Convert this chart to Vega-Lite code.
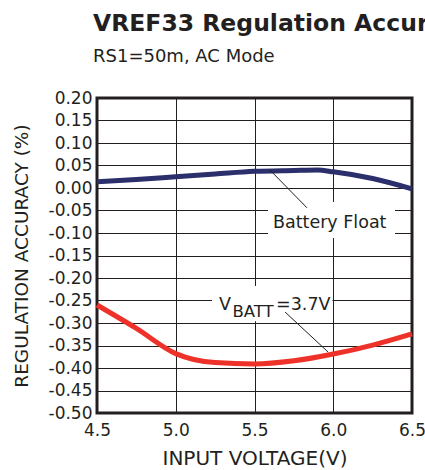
{
  "$schema": "https://vega.github.io/schema/vega-lite/v6.json",
  "width": 315,
  "height": 315,
  "autosize": {"type": "none"},
  "padding": {"left": 97, "top": 98, "right": 13, "bottom": 57},
  "title": {
    "text": "VREF33 Regulation Accuracy",
    "subtitle": "RS1=50m, AC Mode",
    "anchor": "start",
    "frame": "group",
    "dx": -4,
    "offset": 23,
    "font": "DejaVu Sans",
    "fontSize": 23.5,
    "fontWeight": "bold",
    "color": "#231f20",
    "subtitleFont": "DejaVu Sans",
    "subtitleFontSize": 18,
    "subtitleColor": "#231f20",
    "subtitlePadding": 13
  },
  "config": {
    "view": {"stroke": "#231f20", "strokeWidth": 3},
    "axis": {
      "domain": false,
      "ticks": false,
      "grid": true,
      "gridColor": "#231f20",
      "gridWidth": 1,
      "gridOpacity": 1,
      "labelFont": "DejaVu Sans",
      "labelFontSize": 17,
      "labelColor": "#231f20",
      "labelOverlap": false,
      "labelFlush": false,
      "titleFont": "DejaVu Sans",
      "titleFontSize": 18.5,
      "titleFontWeight": "normal",
      "titleColor": "#231f20"
    }
  },
  "datasets": {
    "series": [
      {"series": "Battery Float", "x": 4.5, "y": 0.014},
      {"series": "Battery Float", "x": 4.75, "y": 0.019},
      {"series": "Battery Float", "x": 5.0, "y": 0.025},
      {"series": "Battery Float", "x": 5.25, "y": 0.031},
      {"series": "Battery Float", "x": 5.5, "y": 0.037},
      {"series": "Battery Float", "x": 5.75, "y": 0.039},
      {"series": "Battery Float", "x": 5.9, "y": 0.04},
      {"series": "Battery Float", "x": 6.0, "y": 0.036},
      {"series": "Battery Float", "x": 6.25, "y": 0.021},
      {"series": "Battery Float", "x": 6.5, "y": -0.002},
      {"series": "VBATT=3.7V", "x": 4.5, "y": -0.26},
      {"series": "VBATT=3.7V", "x": 4.75, "y": -0.312},
      {"series": "VBATT=3.7V", "x": 5.0, "y": -0.368},
      {"series": "VBATT=3.7V", "x": 5.25, "y": -0.388},
      {"series": "VBATT=3.7V", "x": 5.5, "y": -0.391},
      {"series": "VBATT=3.7V", "x": 5.75, "y": -0.384},
      {"series": "VBATT=3.7V", "x": 6.0, "y": -0.369},
      {"series": "VBATT=3.7V", "x": 6.25, "y": -0.349},
      {"series": "VBATT=3.7V", "x": 6.5, "y": -0.324}
    ],
    "boxes": [
      {"x": 5.586, "x2": 6.392, "y": -0.031, "y2": -0.111},
      {"x": 5.23, "x2": 5.995, "y": -0.218, "y2": -0.296}
    ],
    "leaders": [
      {"x": 5.598, "y": 0.04, "x2": 5.833, "y2": -0.044},
      {"x": 5.694, "y": -0.2756, "x2": 5.967, "y2": -0.3644}
    ],
    "labels": [
      {"x": 5.617, "y": -0.089, "label": "Battery Float"},
      {"x": 5.275, "y": -0.272, "label": "V"},
      {"x": 5.637, "y": -0.272, "label": "=3.7V"}
    ],
    "subs": [
      {"x": 5.36, "y": -0.2856, "label": "BATT"}
    ]
  },
  "encoding": {
    "x": {
      "field": "x",
      "type": "quantitative",
      "scale": {"domain": [4.5, 6.5], "nice": false, "zero": false},
      "axis": {
        "title": "INPUT VOLTAGE(V)",
        "values": [4.5, 5.0, 5.5, 6.0, 6.5],
        "format": ".1f",
        "labelPadding": 9,
        "titlePadding": 10,
        "titleFontSize": 20
      }
    },
    "y": {
      "field": "y",
      "type": "quantitative",
      "scale": {"domain": [-0.5, 0.2], "nice": false, "zero": false},
      "axis": {
        "title": "REGULATION ACCURACY (%)",
        "values": [0.2, 0.15, 0.1, 0.05, 0, -0.05, -0.1, -0.15, -0.2, -0.25, -0.3, -0.35, -0.4, -0.45, -0.5],
        "labelExpr": "replace(format(datum.value, '.2f'), '\u2212', '-')",
        "labelPadding": 5,
        "titlePadding": 17
      }
    }
  },
  "layer": [
    {
      "data": {"name": "boxes"},
      "mark": {"type": "rect", "fill": "white", "stroke": null},
      "encoding": {"x2": {"field": "x2"}, "y2": {"field": "y2"}}
    },
    {
      "data": {"name": "series"},
      "mark": {"type": "line", "strokeWidth": 5, "interpolate": "monotone", "strokeCap": "butt"},
      "encoding": {
        "color": {
          "field": "series",
          "type": "nominal",
          "scale": {"domain": ["Battery Float", "VBATT=3.7V"], "range": ["#2b2f6b", "#ee3129"]},
          "legend": null
        }
      }
    },
    {
      "data": {"name": "leaders"},
      "mark": {"type": "rule", "color": "#231f20", "strokeWidth": 1},
      "encoding": {"x2": {"field": "x2"}, "y2": {"field": "y2"}}
    },
    {
      "data": {"name": "labels"},
      "mark": {"type": "text", "align": "left", "baseline": "alphabetic", "font": "DejaVu Sans", "fontSize": 17.5, "color": "#231f20"},
      "encoding": {"text": {"field": "label"}}
    },
    {
      "data": {"name": "subs"},
      "mark": {"type": "text", "align": "left", "baseline": "alphabetic", "font": "DejaVu Sans", "fontSize": 16.5, "color": "#231f20"},
      "encoding": {"text": {"field": "label"}}
    }
  ]
}
